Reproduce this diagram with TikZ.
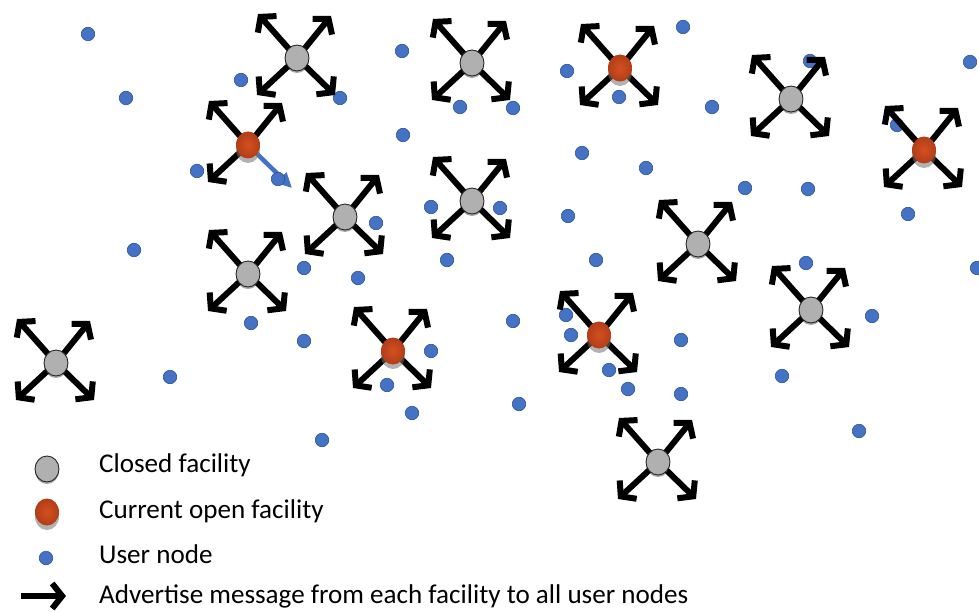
\documentclass[tikz,border=0pt]{standalone}
\usepackage{fontspec}
\setmainfont{Carlito}
\usetikzlibrary{arrows.meta,shapes.geometric,shadows}
\definecolor{userblue}{HTML}{4472C4}
\definecolor{userborder}{HTML}{2F528F}
\definecolor{openred}{HTML}{C5441B}
\definecolor{openlight}{HTML}{D4501F}
\definecolor{closedgray}{HTML}{B0B0B0}
\pgfdeclarelayer{bg}
\pgfsetlayers{bg,main}
\begin{document}
\begin{tikzpicture}[x=1pt,y=-1pt,
  user/.style={circle, minimum size=13.5pt, inner sep=0pt, fill=userblue, draw=userborder, line width=0.6pt},
  closedfac/.style={ellipse, minimum width=24pt, minimum height=26pt, inner sep=0pt, fill=closedgray, draw=black!85, line width=0.9pt,
    drop shadow={shadow xshift=0pt, shadow yshift=-2pt, fill=black, opacity=0.35}},
  openfac/.style={ellipse, minimum width=24pt, minimum height=27pt, inner sep=0pt, draw=none, inner color=openlight, outer color=openred!90!black,
    drop shadow={shadow xshift=0pt, shadow yshift=-4.5pt, fill=black!55, opacity=0.55}},
  adv/.style={line width=6pt, draw=black, -{Straight Barb[length=10pt,width=25pt]}},
  blueadv/.style={line width=4.5pt, draw=userblue, -{Triangle[length=15pt,width=14pt]}},
  legendtext/.style={anchor=base west, inner sep=0pt, font=\fontsize{27.1}{31}\selectfont}]
\useasboundingbox (0,0) rectangle (979,612);

% user nodes
\begin{pgfonlayer}{bg}
\foreach \x/\y [count=\i] in {88/34,126/98,241/80,197/171,
  402/51,340/98,460/107,513/108,403/135,567/71,619/97,582/153,646/168,431/207,500/208,568/216,
  683/27,810/61,712/107,970/62,897/125,745/188,808/189,908/214,
  134/250,304/268,251/323,304/341,170/377,322/440,
  376/223,447/260,596/260,358/278,513/321,566/315,571/335,431/351,387/385,609/370,628/389,412/413,519/404,
  977/268,806/263,872/316,681/340,782/376,681/394,859/431}
  \node[user] (u\i) at (\x,\y) {};
\end{pgfonlayer}
\node[user] (ub) at (278,179) {};

% facilities
\node[closedfac] (f1) at (297,58) {};
\node[closedfac] (f2) at (472,63) {};
\node[openfac] (f3) at (620,68) {};
\node[closedfac] (f4) at (791,99) {};
\node[openfac] (f5) at (924,150) {};
\node[openfac] (f6) at (248,145) {};
\node[closedfac] (f7) at (345,217) {};
\node[closedfac] (f8) at (472,201) {};
\node[closedfac] (f9) at (248,274) {};
\node[closedfac] (f10) at (698,244) {};
\node[closedfac] (f11) at (811,310) {};
\node[closedfac] (f12) at (56,363) {};
\node[openfac] (f13) at (393,351) {};
\node[openfac] (f14) at (599,335) {};
\node[closedfac] (f15) at (658,462) {};

\begin{pgfonlayer}{bg}
\foreach \f in {f1,f2,f3,f4,f5,f6,f7,f8,f9,f10,f11,f12,f13,f14,f15} {
  \path (\f) ++(-39,-44) coordinate (\f-nw);
  \path (\f) ++(34,-42) coordinate (\f-ne);
  \path (\f) ++(-40,37) coordinate (\f-sw);
  \path (\f) ++(38,37) coordinate (\f-se);
  \draw[adv] (\f.center) -- (\f-nw);
  \draw[adv] (\f.center) -- (\f-ne);
  \draw[adv] (\f.center) -- (\f-sw);
}
\foreach \f in {f1,f2,f3,f4,f5,f7,f8,f9,f10,f11,f12,f13,f14,f15}
  \draw[adv] (\f.center) -- (\f-se);
\coordinate (f6-blue) at (292,188);
\draw[blueadv] (f6.center) -- (f6-blue);
\end{pgfonlayer}

% legend
\node[closedfac] (lc) at (47,469) {};
\node[openfac] (lo) at (47,512) {};
\node[user] (lu) at (46,558) {};
\coordinate (la1) at (21,596);
\coordinate (la2) at (66,596);
\draw[adv] (la1) -- (la2);
\node[legendtext] (t1) at (99,472) {Closed facility};
\node[legendtext] (t2) at (99,518) {Current open facility};
\node[legendtext] (t3) at (99,563) {User node};
\node[legendtext] (t4) at (99,603) {Advertise message from each facility to all user nodes};
\end{tikzpicture}
\end{document}
